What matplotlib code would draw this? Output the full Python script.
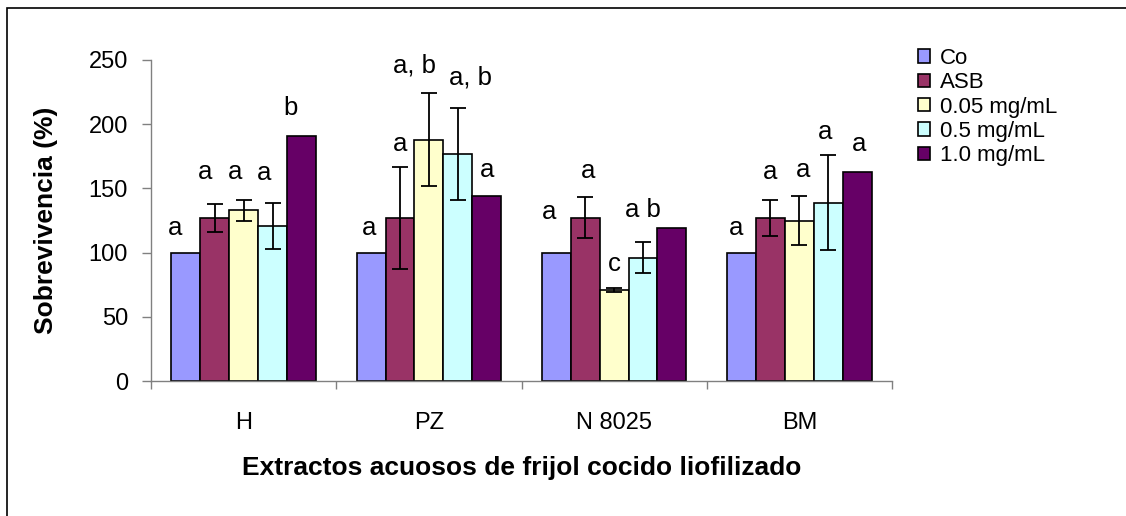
import matplotlib
matplotlib.use("Agg")
import matplotlib.pyplot as plt
from matplotlib.patches import Rectangle
from matplotlib.transforms import offset_copy
import numpy as np

plt.rcParams['font.family'] = ['Liberation Sans', 'DejaVu Sans']

# Extract groups and treatment series
categories = ["H", "PZ", "N 8025", "BM"]
series = ["Co", "ASB", "0.05 mg/mL", "0.5 mg/mL", "1.0 mg/mL"]
colors = ["#9999FF", "#993366", "#FFFFCC", "#CCFFFF", "#660066"]

# Survival (%) per series, one value per extract
co_vals = [100, 100, 100, 100]
asb_vals = [127, 127, 127, 127]
low_vals = [133, 188, 71, 125]
mid_vals = [121, 177, 96, 139]
high_vals = [191, 144, 119, 163]

# Standard deviations
co_err = [0, 0, 0, 0]
asb_err = [11, 40, 16, 14]
low_err = [8, 36, 1.5, 19]
mid_err = [18, 36, 12, 37]
high_err = [0, 0, 0, 0]
has_err = [False, True, True, True, False]

# Significance letters
co_lbl = ["a", "a", "a", "a"]
asb_lbl = ["a", "a", "a", "a"]
low_lbl = ["a", "a, b", "c", "a"]
mid_lbl = ["a", "a, b", "a b", "a"]
high_lbl = ["b", "a", "", "a"]

values = [co_vals, asb_vals, low_vals, mid_vals, high_vals]
errors = [co_err, asb_err, low_err, mid_err, high_err]
letters = [co_lbl, asb_lbl, low_lbl, mid_lbl, high_lbl]

# Hand placement tweaks for the letters (points), rows = series, cols = extracts
nudge_x = [[-8, -1.5, -5, -4],
           [-7, 0, 2, 0],
           [-6.5, -10, 0, 3],
           [-6, 9, 0, -2],
           [-8, 0, 0, 1.5]]
nudge_y = [[-1, -1, 10, -1],
           [4, -3, 0, 1],
           [1, 1, -1.5, 0],
           [2.5, 2.5, 4.5, -2],
           [1, 0, 0, 1.3]]

W, H = 1126, 516
fig = plt.figure(figsize=(W / 100, H / 100), dpi=100)
ax = fig.add_axes([151 / W, 1 - 381 / H, (892 - 151) / W, (381 - 60) / H])

x = np.arange(len(categories))
bw = 0.156
offsets = (np.arange(len(series)) - 2) * bw

for i, (name, vals, errs, lbls, c) in enumerate(zip(series, values, errors, letters, colors)):
    pos = x + offsets[i]
    ax.bar(pos, vals, width=bw, color=c, edgecolor="black", linewidth=1.2, label=name, zorder=2)
    if has_err[i]:
        ax.errorbar(pos, vals, yerr=errs, fmt="none", ecolor="black",
                    elinewidth=1.3, capsize=6, capthick=1.3, zorder=3)
    for j, (p, v, e, t) in enumerate(zip(pos, vals, errs, lbls)):
        if t:
            tr = offset_copy(ax.transData, fig=fig, x=nudge_x[i][j], y=nudge_y[i][j],
                             units="points")
            ax.text(p, v + e + 15, t, ha="center", va="baseline", fontsize=18.5,
                    color="black", transform=tr)

ax.set_xlim(-0.5, len(categories) - 0.5)
ax.set_ylim(0, 250)
ax.set_yticks(np.arange(0, 251, 50))
ax.set_xticks(x)
ax.set_xticklabels(categories)
ax.set_xticks(np.arange(-0.5, len(categories), 1), minor=True)
ax.tick_params(axis="x", which="major", length=0, pad=22, labelsize=17)
ax.tick_params(axis="x", which="minor", length=6, width=1, color="#808080")
ax.tick_params(axis="y", length=6.5, width=1, color="#808080", pad=10, labelsize=17)

for s in ["top", "right"]:
    ax.spines[s].set_visible(False)
for s in ["left", "bottom"]:
    ax.spines[s].set_color("#808080")
    ax.spines[s].set_linewidth(1)

ax.set_ylabel("Sobrevivencia (%)", fontsize=19, fontweight="bold", labelpad=22)
ax.set_xlabel("Extractos acuosos de frijol cocido liofilizado", fontsize=19,
              fontweight="bold", labelpad=16)

fig.legend(loc="upper left", bbox_to_anchor=(918 / W, 1 - 48 / H), frameon=False,
           fontsize=16, handlelength=0.55, handleheight=0.55, handletextpad=0.45,
           labelspacing=0.15, borderpad=0, borderaxespad=0)

# Outer chart frame
fig.patches.append(Rectangle((7 / W, -0.05), 1.1, 1 - 8 / H + 0.05, transform=fig.transFigure,
                             fill=False, edgecolor="black", linewidth=1.2))

fig.savefig("out.png", dpi=100)
